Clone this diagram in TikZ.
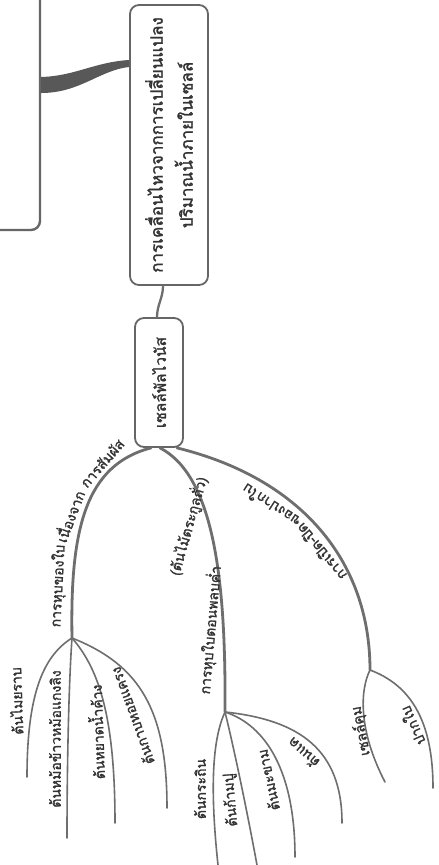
\documentclass[tikz,border=0pt]{standalone}
\usepackage{fontspec}
\newfontfamily\thaifont[Script=Thai,FakeBold=1.5]{Loma}
\usetikzlibrary{calc}
\definecolor{linegray}{HTML}{6E6E6E}
\definecolor{txtgray}{HTML}{333333}
\definecolor{boxgray}{HTML}{666666}
\definecolor{tapergray}{HTML}{585858}
\tikzset{
  box/.style={draw=boxgray, line width=1.8pt, rounded corners=9pt, fill=white, text=txtgray,
    align=center, inner sep=0pt},
  branch/.style={draw=linegray, line width=2.8pt, line cap=round},
  leaf/.style={draw=linegray, line width=1.6pt, line cap=round},
  lbl/.style={text=txtgray, font=\thaifont\fontsize{14}{16}\selectfont, inner sep=0pt},
}
\begin{document}
\begin{tikzpicture}[x=1pt,y=-1pt]
\path[use as bounding box] (0,0) rectangle (439,865);
\clip (0,0) rectangle (439,865);
\fill[white] (0,0) rectangle (439,865);

% partial box at top left
\node[draw=boxgray, line width=2.4pt, rounded corners=9pt, minimum width=100pt, minimum height=270pt, inner sep=0pt] (leftbox) at (-10,95) {};

% main boxes
\node[box, rotate=90, minimum width=280pt, minimum height=78pt,
      font=\thaifont\fontsize{17}{30}\selectfont] (main) at (169,145)
  {การเคลื่อนไหวจากการเปลี่ยนแปลง\\ปริมาณน้ำภายในเซลล์};
\node[box, rotate=90, minimum width=129pt, minimum height=48pt,
      font=\thaifont\fontsize{15.5}{18}\selectfont] (cell) at (159,382.5)
  {เซลล์พัลไวนัส};

% tapered connector from main to left box
\coordinate (tA) at ([yshift=85pt]main.north);
\coordinate (tB) at ([yshift=78pt]main.north);
\coordinate (tC) at ([yshift=18pt]leftbox.east);
\coordinate (tD) at ([yshift=2pt]leftbox.east);
\fill[tapergray] (tC) .. controls (75,76) and (95,62) .. (tA) -- (tB)
   .. controls (100,70) and (80,93) .. (tD) -- cycle;

% junctions
\coordinate (j1) at (72,638);
\coordinate (j2) at (225,712);
\coordinate (j3) at (370,670);

% main -> cell
\draw[branch, line width=2.3pt] ([xshift=-6pt]main.west) .. controls +(0,12) and +(0,-12) .. ([xshift=-2pt]cell.east);

% branches
\draw[branch] ([xshift=-8pt]cell.west) .. controls (85,465) and (70,530) .. (j1);
\draw[branch] ([xshift=1pt]cell.west) .. controls (214,476) and (226,580) .. (j2);
\draw[branch] ([xshift=18pt]cell.west) .. controls (300,478) and (370,560) .. (j3);

% leaf ends
\coordinate (e11) at (27,777);
\coordinate (e12) at (67,838);
\coordinate (e13) at (115,823);
\coordinate (e14) at (167,808);
\coordinate (e21) at (218,865);
\coordinate (e22) at (257,865);
\coordinate (e23) at (295,857);
\coordinate (e24) at (342,823);
\coordinate (e31) at (385,782);
\coordinate (e32) at (433,788);

\draw[leaf] (j1) .. controls (45,655) and (27,690) .. (e11);
\draw[leaf] (j1) .. controls (69,680) and (67,760) .. (e12);
\draw[leaf] (j1) .. controls (100,670) and (115,720) .. (e13);
\draw[leaf] (j1) .. controls (140,665) and (167,710) .. (e14);

\draw[leaf] (j2) .. controls (212,740) and (210,790) .. (e21);
\draw[leaf] (j2) .. controls (232,740) and (245,800) .. (e22);
\draw[leaf] (j2) .. controls (265,725) and (295,770) .. (e23);
\draw[leaf] (j2) .. controls (300,720) and (342,750) .. (e24);

\draw[leaf] (j3) .. controls (360,690) and (358,730) .. (e31);
\draw[leaf] (j3) .. controls (410,685) and (433,720) .. (e32);

% branch labels
\node[lbl, rotate=87] (b1a) at (58,586) {การหุบของใบ};
\node[lbl, rotate=69] (b1b) at (69,516) {เนื่องจาก};
\node[lbl, rotate=49] (b1c) at (102,463) {การสัมผัส};

\node[lbl, rotate=85] (b2a) at (210,630) {การหุบใบตอนพลบค่ำ};
\node[lbl, rotate=74] (b2b) at (188,526) {(ต้นไม้ตระกูลถั่ว)};

\node[lbl, rotate=130] (b3a) at (321,552) {การเปิด-ปิด};
\node[lbl, rotate=147] (b3b) at (271,506) {ของปากใบ};

% leaf labels
\node[lbl, rotate=92] (l11) at (16,701) {ต้นไมยราบ};
\node[lbl, rotate=90] (l12) at (55,739) {ต้นหม้อข้าวหม้อแกงลิง};
\node[lbl, rotate=92] (l13) at (96,732) {ต้นหยาดน้ำค้าง};
\node[lbl, rotate=110] (l14) at (132,716) {ต้นกาบหอยแครง};

\node[lbl, rotate=90] (l21) at (200,789) {ต้นกระถิน};
\node[lbl, rotate=95] (l22) at (231,800) {ต้นก้ามปู};
\node[lbl, rotate=102] (l23) at (268,780) {ต้นมะขาม};
\node[lbl, rotate=138] (l24) at (303,753) {ต้นแค};

\node[lbl, rotate=101] (l31) at (361,731) {เซลล์คุม};
\node[lbl, rotate=114] (l32) at (412,726) {ปากใบ};
\end{tikzpicture}
\end{document}
